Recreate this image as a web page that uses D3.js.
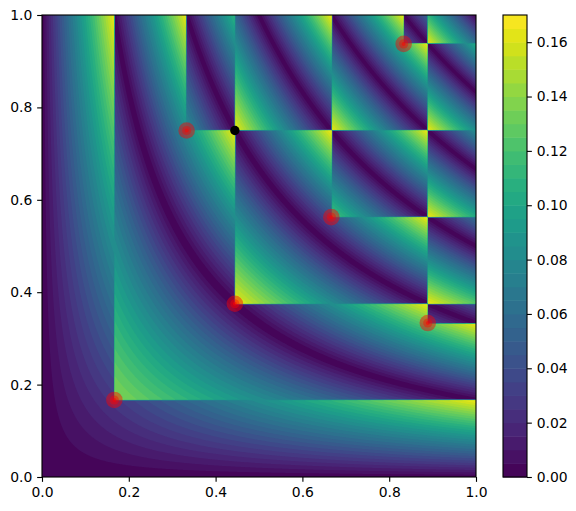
<!DOCTYPE html>
<html>
<head>
<meta charset="utf-8">
<script src="https://cdn.jsdelivr.net/npm/d3@7"></script>
<style>
body { margin: 0; background: #fff; }
svg { display: block; }
text { font-family: "DejaVu Sans", sans-serif; }
</style>
</head>
<body>
<div id="chart"></div>
<script>
// points
const pointX = [0.1667, 0.4444, 0.8889, 0.6667, 0.3333, 0.8333];
const pointY = [0.1667, 0.375, 0.3333, 0.5625, 0.75, 0.9375];
const blackX = [0.4444];
const blackY = [0.75];

const axisTicks = [0, 0.2, 0.4, 0.6, 0.8, 1];
const axisLabels = ['0.0', '0.2', '0.4', '0.6', '0.8', '1.0'];
const barTicks = [0, 0.02, 0.04, 0.06, 0.08, 0.1, 0.12, 0.14, 0.16];
const barLabels = ['0.00', '0.02', '0.04', '0.06', '0.08', '0.10', '0.12', '0.14', '0.16'];
const levelStep = 0.005;
const levelCount = 34;
const levelMax = 0.17;

const levels = d3.range(levelCount + 1).map(i => i * levelStep);

// NOTE: the surface is too dense to read off cell by cell, so it is computed:
// |x*y - share of the points in [0,x]x[0,y]|, this form was inferred from the picture
const n = 400;
function surface() {
    const values = new Array(n * n);
    for (let j = 0; j < n; j++) {
        const y = j / (n - 1);
        for (let i = 0; i < n; i++) {
            const x = i / (n - 1);
            let count = 0;
            pointX.forEach((px, k) => {
                if (px <= x && pointY[k] <= y) count++;
            });
            values[j * n + i] = Math.abs(x * y - count / pointX.length);
        }
    }
    return values;
}

const svg = d3.select('#chart').append('svg').attr('width', 576).attr('height', 511);

const xScale = d3.scaleLinear().domain([0, 1]).range([42, 476]);
const yScale = d3.scaleLinear().domain([0, 1]).range([477, 15]);
const barScale = d3.scaleLinear().domain([0, levelMax]).range([477, 15]);
const levelColor = i => d3.interpolateViridis((levels[i] + levelStep / 2) / levelMax);

svg.append('defs').append('clipPath').attr('id', 'plot-clip').append('rect')
    .attr('x', 42).attr('y', 15).attr('width', 434).attr('height', 462);

// contour bands, painted low to high
const contours = d3.contours().size([n, n]).thresholds(levels.slice(0, -1))(surface());
const toPlot = d3.geoTransform({
    point(x, y) {
        this.stream.point(xScale((x - 0.5) / (n - 1)), yScale((y - 0.5) / (n - 1)));
    }
});
const path = d3.geoPath(toPlot);
svg.append('g').attr('clip-path', 'url(#plot-clip)')
    .selectAll('path')
    .data(contours)
    .enter()
    .append('path')
    .attr('d', path)
    .attr('fill', (d, i) => levelColor(i));

// red markers, three stacked translucent circles
const pointData = pointX.map((x, i) => ({ x: x, y: pointY[i] }));
[[8.3, 0.45], [4.6, 0.4], [2, 0.5]].forEach(m => {
    svg.append('g').selectAll('circle')
        .data(pointData)
        .enter()
        .append('circle')
        .attr('cx', d => xScale(d.x))
        .attr('cy', d => yScale(d.y))
        .attr('r', m[0])
        .attr('fill', 'red')
        .attr('fill-opacity', m[1]);
});
svg.append('circle')
    .attr('cx', xScale(blackX[0]))
    .attr('cy', yScale(blackY[0]))
    .attr('r', 4.7)
    .attr('fill', 'black');

// axes
function styleAxis(g) {
    g.selectAll('.tick line').attr('stroke', '#000').attr('stroke-width', 1.11);
    g.selectAll('.tick text').attr('fill', '#000').style('font-size', '13.9px');
    g.select('.domain').remove();
}
const labelOf = (ticks, labels) => d => labels[ticks.indexOf(d)];

svg.append('g').attr('transform', 'translate(0,477)')
    .call(d3.axisBottom(xScale).tickValues(axisTicks).tickFormat(labelOf(axisTicks, axisLabels)).tickSize(4.86).tickPadding(4.86))
    .call(styleAxis);
svg.append('g').attr('transform', 'translate(42,0)')
    .call(d3.axisLeft(yScale).tickValues(axisTicks).tickFormat(labelOf(axisTicks, axisLabels)).tickSize(4.86).tickPadding(4.86))
    .call(styleAxis);
svg.append('rect').attr('x', 42).attr('y', 15).attr('width', 434).attr('height', 462)
    .attr('fill', 'none').attr('stroke', '#000').attr('stroke-width', 1.11);

// colorbar
svg.append('g').selectAll('rect')
    .data(levels.slice(0, -1))
    .enter()
    .append('rect')
    .attr('x', 503)
    .attr('width', 24)
    .attr('y', d => barScale(d + levelStep))
    .attr('height', d => barScale(d) - barScale(d + levelStep) + 0.5)
    .attr('fill', (d, i) => levelColor(i));
svg.append('g').attr('transform', 'translate(527,0)')
    .call(d3.axisRight(barScale).tickValues(barTicks).tickFormat(labelOf(barTicks, barLabels)).tickSize(4.86).tickPadding(4.86))
    .call(styleAxis);
svg.append('rect').attr('x', 503).attr('y', 15).attr('width', 24).attr('height', 462)
    .attr('fill', 'none').attr('stroke', '#000').attr('stroke-width', 1.11);
</script>
</body>
</html>
